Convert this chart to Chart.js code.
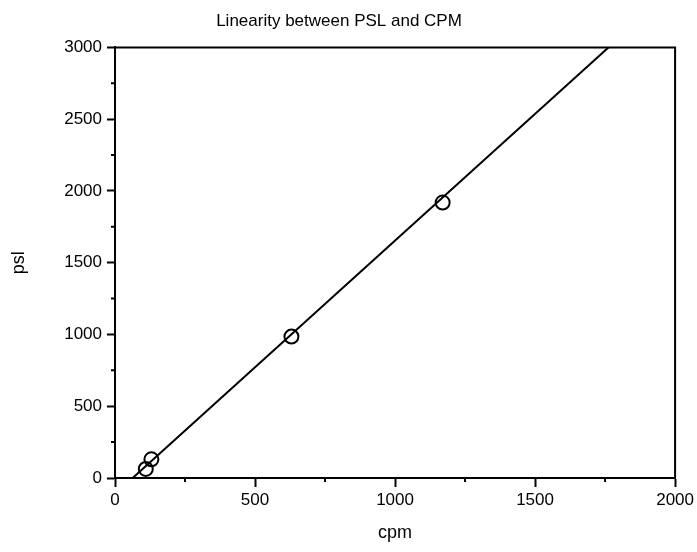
<!DOCTYPE html>
<html>
<head>
<meta charset="utf-8">
<script src="https://cdn.jsdelivr.net/npm/chart.js@4.4.0/dist/chart.umd.min.js"></script>
<style>
body{margin:0;background:#fff;}
#wrap{width:697px;height:552px;}
</style>
</head>
<body>
<div id="wrap"><canvas id="mycanvas" width="697" height="552"></canvas></div>
<script>
// measured points
var cpm = [110, 130, 630, 1170];
var psl = [63, 130, 985, 1919];
// fitted line ends
var fitCpm = [63, 1762];
var fitPsl = [0, 3000];
var xTicks = [0, 500, 1000, 1500, 2000];
var yTicks = [0, 500, 1000, 1500, 2000, 2500, 3000];
var xMinor = [250, 750, 1250, 1750];
var yMinor = [250, 750, 1250, 1750, 2250, 2750];

var pts = [];
for (var i in cpm) {
	pts.push({x: cpm[i], y: psl[i]});
}
var fit = [];
for (var j in fitCpm) {
	fit.push({x: fitCpm[j], y: fitPsl[j]});
}

var fontFam = "'Liberation Sans', Arial, sans-serif";

// box around plot + minor ticks
var frame = {
	id: 'frame',
	afterDraw: function(chart) {
		var c = chart.ctx, a = chart.chartArea;
		var xs = chart.scales.x, ys = chart.scales.y;
		c.save();
		c.strokeStyle = '#000';
		c.lineWidth = 2;
		c.beginPath();
		c.moveTo(a.left, a.top);
		c.lineTo(a.right, a.top);
		c.lineTo(a.right, a.bottom);
		c.stroke();
		c.beginPath();
		xMinor.forEach(function(v){
			var px = xs.getPixelForValue(v);
			c.moveTo(px, a.bottom);
			c.lineTo(px, a.bottom + 4);
		});
		yMinor.forEach(function(v){
			var py = ys.getPixelForValue(v);
			c.moveTo(a.left, py);
			c.lineTo(a.left - 4, py);
		});
		c.stroke();
		c.restore();
	}
};

var ctx = document.getElementById('mycanvas');
var chart = new Chart(ctx, {
	type: 'scatter',
	data: {
		datasets: [
		{
			type: 'line',
			label: 'fit',
			data: fit,
			borderColor: '#000',
			borderWidth: 2,
			pointRadius: 0,
			fill: false,
			tension: 0,
			clip: false
		},
		{
			label: 'data',
			data: pts,
			pointRadius: 7,
			pointBorderWidth: 2,
			borderColor: '#000',
			backgroundColor: 'rgba(255,255,255,0)',
			pointStyle: 'circle'
		}
		]
	},
	options: {
		responsive: false,
		animation: false,
		layout: {padding: {left: 0, right: 19, top: 0, bottom: 0}},
		plugins: {
			legend: {display: false},
			tooltip: {enabled: false},
			title: {
				display: true,
				text: 'Linearity between PSL and CPM',
				color: '#000',
				font: {family: fontFam, size: 17, weight: 'normal'},
				padding: {top: 11, bottom: 16}
			}
		},
		scales: {
			x: {
				type: 'linear',
				min: 0,
				max: 2000,
				afterBuildTicks: function(s){ s.ticks = xTicks.map(function(v){ return {value: v}; }); },
				afterFit: function(s){ s.height = 74; },
				ticks: {color: '#000', font: {family: fontFam, size: 17}, padding: 3, maxRotation: 0,
					callback: function(v){ return String(v); }},
				grid: {drawOnChartArea: false, color: '#000', tickLength: 9, tickWidth: 2},
				border: {color: '#000', width: 2},
				title: {display: true, text: 'cpm', color: '#000', font: {family: fontFam, size: 18}, padding: {top: 0, bottom: 8}}
			},
			y: {
				type: 'linear',
				min: 0,
				max: 3000,
				afterBuildTicks: function(s){ s.ticks = yTicks.map(function(v){ return {value: v}; }); },
				afterFit: function(s){ s.width = 115; },
				ticks: {color: '#000', font: {family: fontFam, size: 17}, padding: 5,
					callback: function(v){ return String(v); }},
				grid: {drawOnChartArea: false, color: '#000', tickLength: 8, tickWidth: 2},
				border: {color: '#000', width: 2},
				title: {display: true, text: 'psl', color: '#000', font: {family: fontFam, size: 18}, padding: {top: 8, bottom: 0}}
			}
		}
	},
	plugins: [frame]
});
</script>
</body>
</html>
